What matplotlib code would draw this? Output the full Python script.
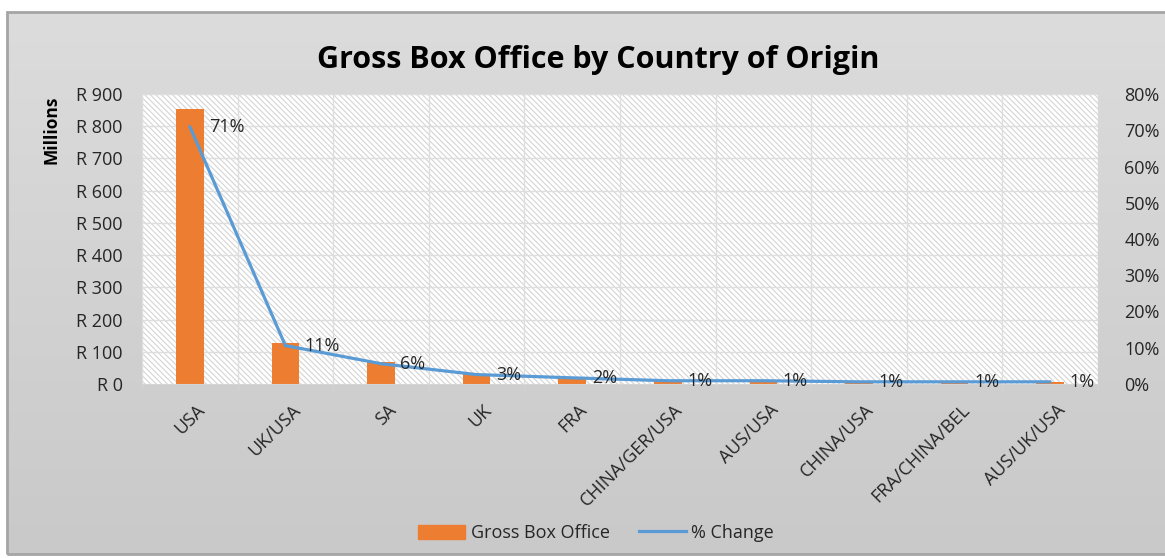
import matplotlib
matplotlib.use('Agg')
import matplotlib.pyplot as plt
import matplotlib.patches as mpatches
from matplotlib.lines import Line2D
import numpy as np

plt.rcParams['font.family'] = ['Open Sans', 'DejaVu Sans']
plt.rcParams['hatch.linewidth'] = 0.8

countries = ['USA', 'UK/USA', 'SA', 'UK', 'FRA', 'CHINA/GER/USA', 'AUS/USA',
             'CHINA/USA', 'FRA/CHINA/BEL', 'AUS/UK/USA']
gross_m = [854, 127, 68, 31, 20, 10, 10, 7, 7, 7]          # R millions
pct_change = [71.0, 10.6, 5.6, 2.6, 1.7, 0.9, 0.9, 0.6, 0.6, 0.6]  # %

left_ticks = [0, 100, 200, 300, 400, 500, 600, 700, 800, 900]
right_ticks = [0, 10, 20, 30, 40, 50, 60, 70, 80]

BAR = '#ed7d31'
LINE = '#5b9bd5'
TXT = '#262626'
FS = 13

W, H = 1165, 558
fig = plt.figure(figsize=(W / 100, H / 100), dpi=100)
fig.patch.set_facecolor('white')

# ── chart frame with a soft grey gradient ──
bg = fig.add_axes([7 / W, 4 / H, 1, 542 / H], zorder=-5)
grad = np.linspace(0, 1, 256).reshape(-1, 1)
bg.imshow(grad, aspect='auto', cmap=matplotlib.colors.LinearSegmentedColormap.from_list(
    'g', ['#dcdcdc', '#c9c9c9']), extent=[0, 1, 0, 1], origin='upper')
bg.set_xlim(0, 1)
bg.set_ylim(0, 1)
bg.axis('off')
fig.patches.append(mpatches.Rectangle((7 / W, 4 / H), 1, 542 / H, transform=fig.transFigure,
                                      fill=False, edgecolor='#a5a5a5', linewidth=2.0, zorder=10))

# ── plot area ──
ax = fig.add_axes([142 / W, 1 - 384 / H, 956 / W, 290 / H], zorder=1)
ax.patch.set_facecolor('white')
ax.add_patch(mpatches.Rectangle((0, 0), 1, 1, transform=ax.transAxes, facecolor='white',
                                edgecolor='#d4d4d4', linewidth=0, hatch='\\\\\\\\\\\\', zorder=0))

x = np.arange(len(countries))
ax.bar(x, gross_m, width=0.29, color=BAR, zorder=2)
ax.set_xlim(-0.5, len(countries) - 0.5)
ax.set_ylim(0, 900)
ax.set_yticks(left_ticks)
ax.set_yticklabels([f'R {v}' for v in left_ticks], fontsize=FS, color=TXT)
ax.tick_params(axis='y', length=0, pad=14)

# gridlines: every R100 and at category boundaries
for v in left_ticks[1:]:
    ax.axhline(v, color='#dedede', linewidth=1.0, zorder=1)
ax.set_xticks(np.arange(len(countries) + 1) - 0.5, minor=True)
ax.grid(True, which='minor', axis='x', color='#dedede', linewidth=1.0, zorder=1)
ax.tick_params(axis='x', which='minor', length=4, color='#d4d4d4')

ax.set_xticks(x + 0.06)
ax.set_xticklabels(countries, rotation=45, ha='right', va='top', rotation_mode='anchor',
                   fontsize=FS, color=TXT)
ax.tick_params(axis='x', which='major', length=0, pad=12)
for s in ax.spines.values():
    s.set_visible(False)
ax.spines['bottom'].set_visible(True)
ax.spines['bottom'].set_color('#d4d4d4')

# ── % change on the secondary axis ──
ax2 = ax.twinx()
ax2.plot(x, pct_change, color=LINE, linewidth=2.3, zorder=3, solid_capstyle='round')
ax2.set_ylim(0, 80)
ax2.set_yticks(right_ticks)
ax2.set_yticklabels([f'{v}%' for v in right_ticks], fontsize=FS, color=TXT)
ax2.tick_params(axis='y', length=0, pad=19)
for s in ax2.spines.values():
    s.set_visible(False)
for xi, p in zip(x, pct_change):
    ax2.annotate(f'{p:.0f}%', (xi, p), xytext=(14, 0), textcoords='offset points',
                 ha='left', va='center', fontsize=FS, color=TXT, zorder=4)

fig.text(52 / W, 1 - 130 / H, 'Millions', rotation=90, ha='center', va='center',
         fontsize=12.5, fontweight='bold', color='black')
fig.text(598 / W, 1 - 60 / H, 'Gross Box Office by Country of Origin', ha='center', va='center',
         fontsize=22, fontweight='bold', color='black')

handles = [mpatches.Patch(color=BAR, label='Gross Box Office'),
           Line2D([], [], color=LINE, linewidth=2.3, label='% Change')]
fig.legend(handles=handles, loc='center', bbox_to_anchor=(596 / W, 1 - 533 / H), ncol=2,
           frameon=False, fontsize=FS, handlelength=2.6, handleheight=0.8,
           handletextpad=0.3, columnspacing=1.6, labelcolor=TXT)

fig.savefig('out.png', dpi=100, facecolor='white')
